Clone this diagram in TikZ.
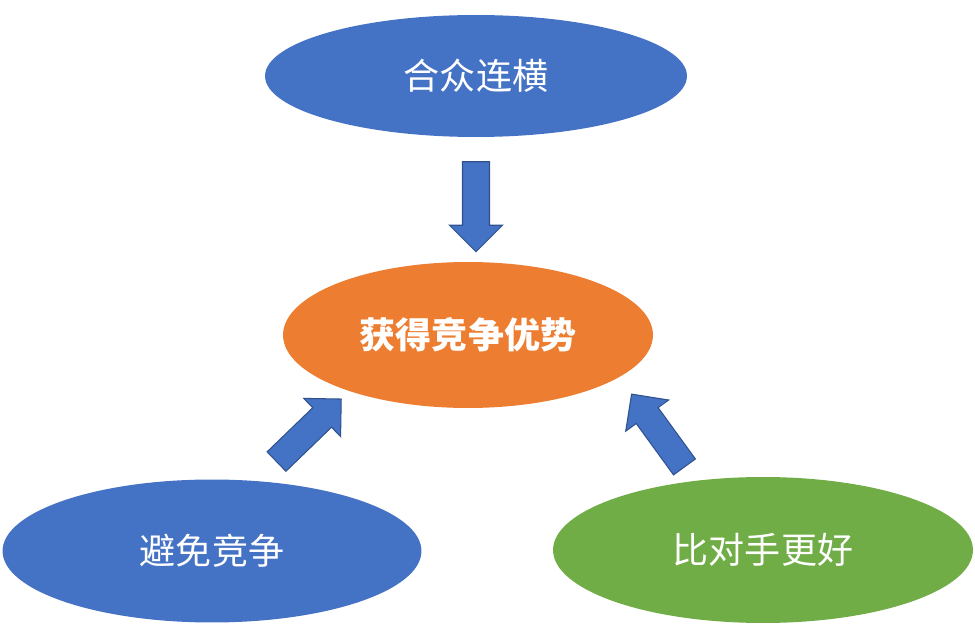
\documentclass[tikz,border=0pt]{standalone}
\usepackage{fontspec}
\newfontfamily\cjk{Noto Sans CJK SC}
\usetikzlibrary{shapes.geometric,shapes.arrows}

\definecolor{officeblue}{HTML}{4472C4}
\definecolor{officeorange}{HTML}{ED7D31}
\definecolor{officegreen}{HTML}{70AD47}
\definecolor{arrowline}{HTML}{2F528F}

\tikzset{
  bubble/.style={ellipse, inner sep=0pt, text=white,
    font=\cjk\fontsize{20.5}{24}\selectfont},
  blockarrow/.style={single arrow, draw=arrowline, fill=officeblue, line width=0.6pt,
    inner xsep=0pt, inner ysep=0.26cm, single arrow head extend=0.26cm,
    minimum height=1.8cm}
}

\begin{document}
\begin{tikzpicture}[x=0.02cm, y=-0.02cm]
    \useasboundingbox (0,0) rectangle (975,628);
    % ellipses
    \node(goal)[bubble, fill=officeorange, minimum width=7.4cm, minimum height=2.92cm] at (468,335) {\bfseries 获得竞争优势};
    \node(ally)[bubble, fill=officeblue, minimum width=8.44cm, minimum height=2.44cm] at (476,76) {合众连横};
    \node(avoid)[bubble, fill=officeblue, minimum width=8.38cm, minimum height=2.86cm] at (212,551) {避免竞争};
    \node(better)[bubble, fill=officegreen, minimum width=8.4cm, minimum height=2.92cm] at (763,550) {比对手更好};
    % arrows
    \node(a1)[blockarrow, rotate=-90] at (476,200) {};
    \node(a2)[blockarrow, rotate=44] at (304,435) {};
    \node(a3)[blockarrow, rotate=126] at (662,436) {};
\end{tikzpicture}
\end{document}
